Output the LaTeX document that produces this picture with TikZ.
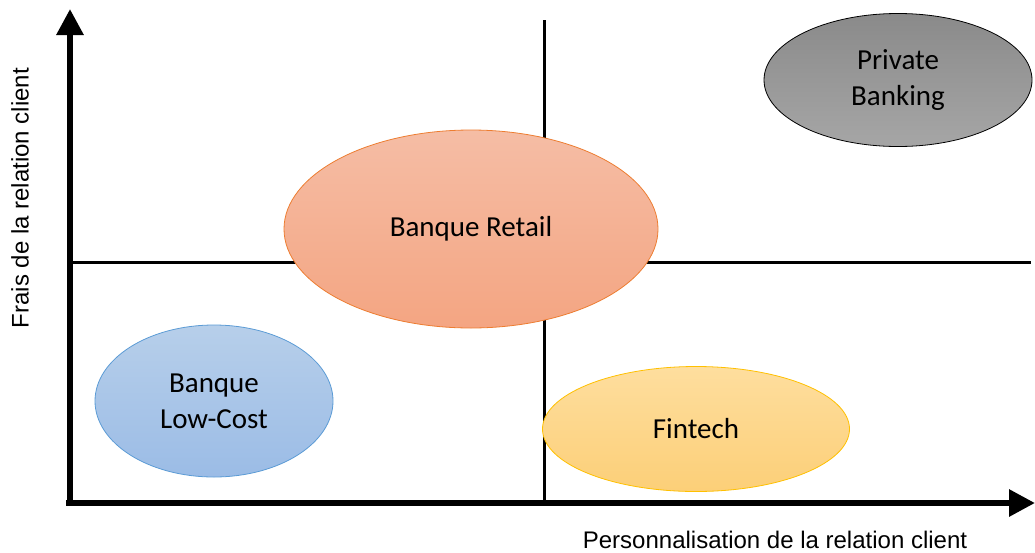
\documentclass[tikz,border=0pt]{standalone}
\usepackage{fontspec}
\setmainfont{Carlito}
\newfontfamily\arialfont{Liberation Sans}
\usetikzlibrary{shapes.geometric,arrows.meta}
\definecolor{pbtop}{HTML}{8A8A8A}
\definecolor{pbbot}{HTML}{A6A6A6}
\definecolor{rttop}{HTML}{F5BDA5}
\definecolor{rtbot}{HTML}{F4A582}
\definecolor{rtline}{HTML}{ED7D31}
\definecolor{lctop}{HTML}{B7CFEA}
\definecolor{lcbot}{HTML}{9BBCE6}
\definecolor{lcline}{HTML}{5B9BD5}
\definecolor{fttop}{HTML}{FEDE9E}
\definecolor{ftbot}{HTML}{FCCF78}
\definecolor{ftline}{HTML}{FFC000}
\tikzset{
  blob/.style={ellipse, inner sep=0pt, align=center, font=\fontsize{29}{36}\selectfont, line width=0.8pt},
  axis/.style={line width=6pt, -{Triangle[length=26pt,width=26pt]}},
  quad/.style={line width=3pt},
  axlabel/.style={font=\arialfont\fontsize{24}{28}\selectfont}
}
\begin{document}
\begin{tikzpicture}[x=1pt,y=-1pt]
\useasboundingbox (0,0) rectangle (1035,552);
% quadrant lines
\coordinate (vt) at (544,20);
\coordinate (vb) at (544,500);
\coordinate (hl) at (72,262);
\coordinate (hr) at (1031,262);
\draw[quad] (vt) -- (vb);
\draw[quad] (hl) -- (hr);
% ellipses
\node[blob, draw=black, top color=pbtop, bottom color=pbbot, minimum width=268pt, minimum height=133pt] (pb) at (898,80) {Private\\Banking};
\node[blob, draw=rtline, top color=rttop, bottom color=rtbot, minimum width=374pt, minimum height=198pt] (rt) at (471,229) {Banque Retail};
\node[blob, draw=lcline, top color=lctop, bottom color=lcbot, minimum width=238pt, minimum height=152pt] (lc) at (214,401) {Banque\\Low-Cost};
\node[blob, draw=ftline, top color=fttop, bottom color=ftbot, minimum width=307pt, minimum height=125pt] (ft) at (696,429) {Fintech};
% axes
\coordinate (o) at (70,503);
\coordinate (ytip) at (70,9);
\coordinate (xtip) at (1035,503);
\draw[axis] (70,506) -- (ytip);
\draw[axis] (66,503) -- (xtip);
% axis labels
\node[axlabel] (xl) at (775,540) {Personnalisation de la relation client};
\node[axlabel, rotate=90] (yl) at (20,198) {Frais de la relation client};
\end{tikzpicture}
\end{document}
